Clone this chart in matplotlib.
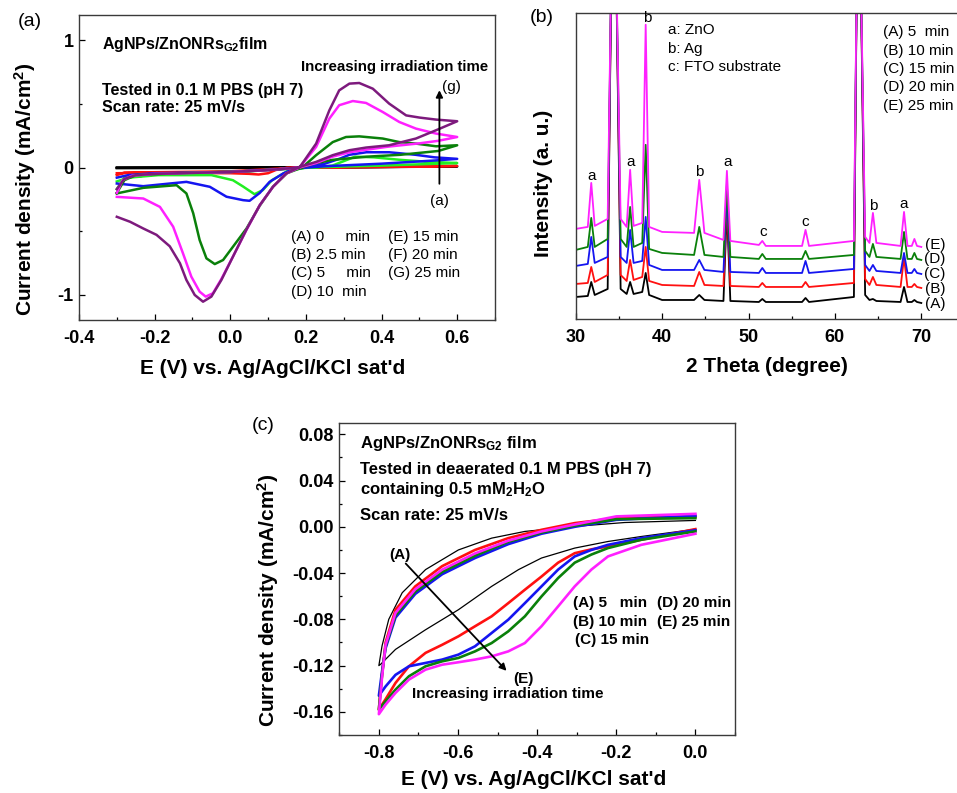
import matplotlib
matplotlib.use("Agg")
import matplotlib.pyplot as plt
from matplotlib.ticker import MultipleLocator, FormatStrFormatter

plt.rcParams['font.family'] = ['Liberation Sans', 'DejaVu Sans']
plt.rcParams['font.weight'] = 'bold'
plt.rcParams['axes.labelweight'] = 'bold'
plt.rcParams['mathtext.default'] = 'regular'
plt.rcParams['axes.unicode_minus'] = False

W, H = 957, 793

# ---------------- (a) CV in PBS, loop = forward sweep then reverse sweep
E_A = [-0.3, 0.0, 0.3, 0.6, 0.3, 0.0, -0.3]
J_A = [0.0, 0.0, 0.003, 0.008, 0.002, -0.003, -0.005]

E_B = [-0.3, -0.28, 0.0, 0.15, 0.3, 0.6, 0.3, 0.15, 0.12, 0.1, 0.075, 0.05, 0.0, -0.2, -0.3]
J_B = [-0.06, -0.04, -0.03, -0.005, 0.005, 0.012, 0.0, -0.002, -0.02, -0.045, -0.055, -0.05,
       -0.045, -0.042, -0.045]

E_C = [-0.3, -0.28, -0.2, 0.0, 0.15, 0.22, 0.27, 0.3, 0.33, 0.38, 0.45, 0.52, 0.6,
       0.4, 0.2, 0.15, 0.11, 0.086, 0.064, 0.034, 0.007, -0.05, -0.19, -0.27, -0.3]
J_C = [-0.17, -0.08, -0.055, -0.035, -0.01, 0.0, 0.015, 0.05, 0.085, 0.08, 0.06, 0.045, 0.035,
       0.015, 0.0, -0.03, -0.1, -0.178, -0.21, -0.15, -0.1, -0.06, -0.06, -0.08, -0.11]

E_D = [-0.3, -0.27, -0.2, 0.0, 0.15, 0.2, 0.25, 0.29, 0.315, 0.36, 0.42, 0.49, 0.54, 0.6,
       0.54, 0.4, 0.25, 0.17, 0.14, 0.104, 0.078, 0.051, 0.034, -0.01, -0.054, -0.116, -0.23, -0.3]
J_D = [-0.08, -0.06, -0.045, -0.035, -0.01, 0.005, 0.03, 0.07, 0.1, 0.12, 0.12, 0.1, 0.08, 0.068,
       0.055, 0.03, 0.01, -0.008, -0.047, -0.113, -0.2, -0.262, -0.257, -0.23, -0.152, -0.113,
       -0.147, -0.126]

E_E = [-0.3, -0.28, -0.25, -0.1, 0.05, 0.15, 0.19, 0.227, 0.271, 0.306, 0.341, 0.403, 0.447,
       0.491, 0.544, 0.6,
       0.55, 0.45, 0.36, 0.27, 0.22, 0.19, 0.15, 0.113, 0.078, 0.043, 0.007, -0.019, -0.041,
       -0.063, -0.081, -0.098, -0.116, -0.142, -0.23, -0.3]
J_E = [-0.2, -0.1, -0.06, -0.04, -0.03, -0.01, 0.0, 0.097, 0.2, 0.24, 0.245, 0.228, 0.2,
       0.188, 0.167, 0.175,
       0.13, 0.1, 0.085, 0.06, 0.03, 0.0, -0.045, -0.15, -0.3, -0.48, -0.624, -0.728, -0.76,
       -0.715, -0.571, -0.36, -0.204, -0.139, -0.16, -0.204]

E_F = [-0.3, -0.285, -0.26, -0.2, 0.0, 0.1, 0.183, 0.227, 0.262, 0.288, 0.324, 0.359, 0.403,
       0.447, 0.491, 0.544, 0.6,
       0.55, 0.5, 0.42, 0.36, 0.315, 0.27, 0.227, 0.183, 0.148, 0.113, 0.078, 0.043, 0.007,
       -0.024, -0.046, -0.065, -0.081, -0.103, -0.125, -0.151, -0.186, -0.23, -0.3]
J_F = [-0.2, -0.1, -0.065, -0.05, -0.035, -0.02, 0.0, 0.162, 0.385, 0.49, 0.523, 0.508, 0.437,
       0.358, 0.306, 0.267, 0.24,
       0.21, 0.19, 0.165, 0.14, 0.12, 0.085, 0.035, 0.0, -0.047, -0.152, -0.296, -0.49, -0.702,
       -0.88, -0.99, -1.016, -0.977, -0.859, -0.676, -0.466, -0.31, -0.244, -0.231]

E_G = [-0.3, -0.28, -0.25, -0.2, 0.0, 0.1, 0.183, 0.227, 0.262, 0.288, 0.315, 0.341, 0.377,
       0.42, 0.465, 0.5, 0.544, 0.6,
       0.544, 0.491, 0.42, 0.359, 0.315, 0.271, 0.227, 0.183, 0.148, 0.113, 0.078, 0.0425,
       0.007, -0.0235, -0.05, -0.072, -0.094, -0.116, -0.133, -0.16, -0.195, -0.23, -0.265, -0.3]
J_G = [-0.17, -0.09, -0.06, -0.05, -0.035, -0.02, 0.0, 0.188, 0.45, 0.607, 0.66, 0.665, 0.62,
       0.503, 0.41, 0.393, 0.377, 0.364,
       0.293, 0.228, 0.175, 0.157, 0.136, 0.097, 0.044, 0.005, -0.047, -0.152, -0.296, -0.49,
       -0.702, -0.885, -1.016, -1.056, -1.003, -0.885, -0.754, -0.62, -0.53, -0.48, -0.427, -0.388]

cv_a = [(E_A, J_A, 'black'), (E_B, J_B, '#ff1010'), (E_C, J_C, '#22ee22'),
        (E_D, J_D, '#1515f0'), (E_E, J_E, '#0a800a'), (E_F, J_F, '#ff20ff'),
        (E_G, J_G, '#7d1a7d')]
legend_a1 = ["(A) 0     min", "(B) 2.5 min", "(C) 5     min", "(D) 10  min"]
legend_a2 = ["(E) 15 min", "(F) 20 min", "(G) 25 min"]

# ---------------- (b) XRD (vertices of the traces)
two_theta = [30.0, 31.4, 31.8, 32.2, 33.7, 34.2, 34.6, 35.2, 35.9, 36.3, 36.7, 37.7, 38.1, 38.5,
             40.0, 43.7, 44.3, 44.9, 47.1, 47.5, 47.9, 51.2, 51.6, 52.0, 56.2, 56.6, 57.0,
             62.2, 62.6, 62.9, 63.5, 64.0, 64.4, 64.8, 67.6, 68.0, 68.4, 68.9, 69.2, 69.5, 70.0]
xrd_A = [22, 23, 37, 24, 30, 400, 400, 30, 25, 37, 25, 27, 46, 24, 19, 19, 24, 19, 18, 110, 18,
         17, 20, 17, 17, 21, 17, 22, 400, 400, 24, 19, 20, 18, 17, 32, 17, 17, 19, 17, 16]
xrd_B = [35, 36, 52, 37, 44, 400, 400, 44, 38, 59, 39, 42, 72, 38, 34, 33, 47, 34, 33, 120, 33,
         32, 36, 32, 32, 37, 32, 36, 400, 400, 40, 34, 42, 34, 32, 61, 32, 32, 35, 32, 31]
xrd_C = [53, 55, 82, 56, 62, 400, 400, 62, 56, 89, 56, 58, 102, 54, 49, 49, 59, 49, 47, 125, 47,
         46, 51, 46, 46, 58, 46, 50, 400, 400, 54, 48, 54, 48, 46, 66, 46, 46, 50, 46, 45]
xrd_D = [69, 72, 101, 72, 80, 400, 400, 80, 72, 112, 72, 76, 174, 70, 66, 64, 92, 64, 62, 135, 62,
         60, 65, 60, 60, 68, 60, 64, 400, 400, 68, 62, 75, 62, 60, 87, 60, 60, 66, 60, 59]
xrd_E = [90, 92, 136, 93, 100, 400, 400, 100, 92, 149, 93, 96, 294, 92, 87, 86, 139, 86, 79, 148,
         78, 74, 78, 73, 73, 89, 73, 78, 400, 400, 82, 76, 106, 76, 73, 107, 73, 73, 80, 73, 72]
xrd = [(xrd_A, 'black', '(A)'), (xrd_B, '#ff1010', '(B)'), (xrd_C, '#1515f0', '(C)'),
       (xrd_D, '#0a800a', '(D)'), (xrd_E, '#ff20ff', '(E)')]
peak_tags = [('a', 31.85, 143), ('a', 36.3, 157), ('b', 38.3, 301), ('b', 44.3, 147),
             ('a', 47.55, 157), ('c', 51.7, 87), ('c', 56.6, 97), ('b', 64.4, 113),
             ('a', 67.9, 115)]
legend_b = ["(A) 5  min", "(B) 10 min", "(C) 15 min", "(D) 20 min", "(E) 25 min"]
phase_b = ["a: ZnO", "b: Ag", "c: FTO substrate"]

# ---------------- (c) CV with H2O2, loop = cathodic sweep then return sweep
Ec_A = [0.0, -0.011, -0.137, -0.221, -0.305, -0.389, -0.447, -0.515, -0.599, -0.682, -0.758,
        -0.796, -0.8, -0.792, -0.775, -0.741, -0.682, -0.599, -0.515, -0.431, -0.305, -0.179, 0.0]
Jc_A = [-0.002, -0.0026, -0.0084, -0.0127, -0.0184, -0.027, -0.037, -0.0515, -0.0717, -0.089,
        -0.106, -0.119, -0.12, -0.103, -0.080, -0.057, -0.037, -0.02, -0.0098, -0.004, 0.0003,
        0.0037, 0.0055]
Ec_grid = [0.0, -0.137, -0.221, -0.263, -0.305, -0.347, -0.389, -0.431, -0.473, -0.515, -0.557,
           -0.599, -0.64, -0.682, -0.724, -0.758, -0.783, -0.8,
           -0.792, -0.783, -0.758, -0.708, -0.64, -0.557, -0.473, -0.389, -0.305, -0.2, 0.0]
Jc_B = [-0.002, -0.0112, -0.017, -0.0195, -0.0228, -0.031, -0.043, -0.0544, -0.066, -0.0774,
        -0.086, -0.0947, -0.102, -0.109, -0.1206, -0.135, -0.149, -0.158,
        -0.128, -0.1, -0.0717, -0.0515, -0.034, -0.02, -0.0098, -0.0026, 0.0032, 0.0075, 0.0089]
Jc_C = [-0.003, -0.0098, -0.0156, -0.02, -0.0256, -0.037, -0.0515, -0.066, -0.0803, -0.0918,
        -0.1033, -0.1105, -0.1148, -0.1177, -0.1206, -0.128, -0.138, -0.146,
        -0.125, -0.105, -0.0785, -0.058, -0.041, -0.027, -0.015, -0.006, 0.0, 0.006, 0.0095]
Jc_D = [-0.004, -0.0112, -0.0184, -0.024, -0.031, -0.0443, -0.0602, -0.0774, -0.0904, -0.1005,
        -0.1077, -0.1134, -0.1163, -0.1206, -0.1292, -0.1408, -0.1508, -0.158,
        -0.128, -0.103, -0.0765, -0.056, -0.039, -0.025, -0.013, -0.005, 0.001, 0.0066, 0.0075]
Jc_E = [-0.006, -0.0156, -0.0256, -0.037, -0.0515, -0.0688, -0.086, -0.1005, -0.1077, -0.112,
        -0.1148, -0.1171, -0.1192, -0.1235, -0.1321, -0.1436, -0.1537, -0.162,
        -0.13, -0.102, -0.0745, -0.054, -0.037, -0.023, -0.012, -0.004, 0.002, 0.009, 0.0112]
cv_c = [(Jc_B, '#ff1010'), (Jc_C, '#1515f0'), (Jc_D, '#0a800a'), (Jc_E, '#ff20ff')]
legend_c = [("(A) 5   min", 573.3, 603.3), ("(B) 10 min", 573.3, 621.7),
            ("(C) 15 min", 575.0, 640.0), ("(D) 20 min", 656.7, 603.3),
            ("(E) 25 min", 656.7, 621.7)]

fig = plt.figure(figsize=(W / 100, H / 100), dpi=100)


def ax_at(left, top, right, bottom):
    return fig.add_axes([left / W, 1 - bottom / H, (right - left) / W, (bottom - top) / H])


def txt(px, py, s, **kw):
    kw.setdefault('va', 'center')
    kw.setdefault('ha', 'left')
    fig.text(px / W, 1 - py / H, s, **kw)


def style(ax):
    for sp in ax.spines.values():
        sp.set_linewidth(1.0)
        sp.set_color('#3a3a3a')
    ax.tick_params(which='both', direction='in', width=0.9, labelsize=13)
    ax.tick_params(which='major', length=4.5)
    ax.tick_params(which='minor', length=2.5)
    ax.tick_params(axis='x', pad=7)
    ax.tick_params(axis='y', pad=4)


# ---- panel (a)
ax1 = ax_at(79, 15, 495, 320)
for e, j, c in cv_a:
    ax1.plot(e, j, color=c, lw=1.8)
ax1.set_xlim(-0.4, 0.7)
ax1.set_ylim(-1.2, 1.2)
ax1.xaxis.set_major_locator(MultipleLocator(0.2))
ax1.xaxis.set_minor_locator(MultipleLocator(0.1))
ax1.xaxis.set_major_formatter(FormatStrFormatter('%.1f'))
ax1.yaxis.set_major_locator(MultipleLocator(1))
ax1.yaxis.set_minor_locator(MultipleLocator(0.5))
ax1.yaxis.set_major_formatter(FormatStrFormatter('%d'))
style(ax1)
ax1.set_xlabel("E (V) vs. Ag/AgCl/KCl sat'd", fontsize=15, fontweight='bold')
ax1.xaxis.set_label_coords(0.466, -0.158)
ax1.xaxis.label.set_va('center')
ax1.set_ylabel("Current density (mA/cm$^2$)", fontsize=15, fontweight='bold')
ax1.yaxis.set_label_coords(-0.13, 0.43)
ax1.yaxis.label.set_va('center')
ax1.annotate('', xy=(0.553, 0.63), xytext=(0.553, -0.15),
             arrowprops=dict(arrowstyle='-|>', color='black', lw=1.3, mutation_scale=10))
ax1.text(0.56, 0.63, '(g)', fontsize=11, fontweight='normal', va='center', ha='left')
ax1.text(0.553, -0.26, '(a)', fontsize=11, fontweight='normal', va='center', ha='center')

txt(30, 22, '(a)', fontsize=14, fontweight='normal', ha='center')
txt(102, 45, 'AgNPs/ZnONRs$_{G2}$film', fontsize=11.5)
txt(102, 90.7, 'Tested in 0.1 M PBS (pH 7)', fontsize=11.5)
txt(102, 107.3, 'Scan rate: 25 mV/s', fontsize=11.5)
txt(301, 66.7, 'Increasing irradiation time', fontsize=10.8)
for i, s in enumerate(legend_a1):
    txt(291, 236.7 + 18.3 * i, s, fontsize=11, fontweight='normal')
for i, s in enumerate(legend_a2):
    txt(388.3, 236.7 + 18.3 * i, s, fontsize=11, fontweight='normal')

# ---- panel (b)
ax2 = ax_at(575.7, 12.7, 964.5, 319)
for vals, c, lab in xrd:
    ax2.plot(two_theta, vals, color=c, lw=1.3)
ax2.set_xlim(30, 75)
ax2.set_ylim(0, 306)
ax2.xaxis.set_major_locator(MultipleLocator(10))
ax2.xaxis.set_minor_locator(MultipleLocator(5))
ax2.set_yticks([])
style(ax2)
ax2.set_xlabel("2 Theta (degree)", fontsize=15, fontweight='bold')
ax2.xaxis.set_label_coords(0.492, -0.156)
ax2.xaxis.label.set_va('center')
ax2.set_ylabel("Intensity (a. u.)", fontsize=15, fontweight='bold')
ax2.yaxis.set_label_coords(-0.084, 0.444)
ax2.yaxis.label.set_va('center')
for s, x, y in peak_tags:
    ax2.text(x, y, s, fontsize=11, fontweight='normal', ha='center', va='center')
for (vals, c, lab), py in zip(xrd, [304, 289, 274, 259, 245]):
    txt(935, py, lab, fontsize=11, fontweight='normal', ha='center')
txt(541.7, 18, '(b)', fontsize=14, fontweight='normal', ha='center')
for i, s in enumerate(phase_b):
    txt(667.7, 30 + 18.5 * i, s, fontsize=11, fontweight='normal')
for i, s in enumerate(legend_b):
    txt(883, 32.3 + 18.4 * i, s, fontsize=11, fontweight='normal')

# ---- panel (c)
ax3 = ax_at(339.3, 422.7, 735, 735)
ax3.plot(Ec_A, Jc_A, color='black', lw=0.9)
for j, c in cv_c:
    ax3.plot(Ec_grid, j, color=c, lw=1.9)
ax3.set_xlim(-0.9, 0.1)
ax3.set_ylim(-0.18, 0.09)
ax3.xaxis.set_major_locator(MultipleLocator(0.2))
ax3.xaxis.set_minor_locator(MultipleLocator(0.1))
ax3.xaxis.set_major_formatter(FormatStrFormatter('%.1f'))
ax3.yaxis.set_major_locator(MultipleLocator(0.04))
ax3.yaxis.set_minor_locator(MultipleLocator(0.02))
ax3.yaxis.set_major_formatter(FormatStrFormatter('%.2f'))
style(ax3)
ax3.set_xlabel("E (V) vs. Ag/AgCl/KCl sat'd", fontsize=15, fontweight='bold')
ax3.xaxis.set_label_coords(0.49, -0.144)
ax3.xaxis.label.set_va('center')
ax3.set_ylabel("Current density (mA/cm$^2$)", fontsize=15, fontweight='bold')
ax3.yaxis.set_label_coords(-0.179, 0.43)
ax3.yaxis.label.set_va('center')
ax3.annotate('', xy=(-0.4725, -0.1263), xytext=(-0.737, -0.030),
             arrowprops=dict(arrowstyle='-|>', color='black', lw=1.3, mutation_scale=10))
ax3.text(-0.748, -0.0241, '(A)', fontsize=11, ha='center', va='center')
ax3.text(-0.435, -0.1315, '(E)', fontsize=11, ha='center', va='center')

txt(263, 425, '(c)', fontsize=14, fontweight='normal', ha='center')
txt(360, 443.3, 'AgNPs/ZnONRs$_{G2}$ film', fontsize=12)
txt(360, 469.3, 'Tested in deaerated 0.1 M PBS (pH 7)', fontsize=12)
txt(360, 489.3, 'containing 0.5 mM$_2$H$_2$O', fontsize=12)
txt(360, 516, 'Scan rate: 25 mV/s', fontsize=12)
txt(411.7, 694, 'Increasing irradiation time', fontsize=11)
for s, px, py in legend_c:
    txt(px, py, s, fontsize=11)

fig.savefig('out.png', dpi=100)
